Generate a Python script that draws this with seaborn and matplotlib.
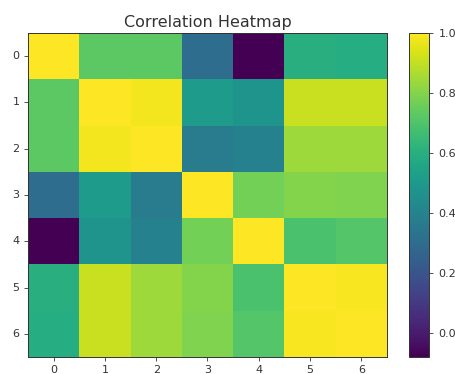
import matplotlib
matplotlib.use("Agg")
import matplotlib.pyplot as plt
import numpy as np
import pandas as pd
import seaborn as sns

# Correlation values
labels = ["0", "1", "2", "3", "4", "5", "6"]
row_0 = [1.00, 0.73, 0.73, 0.30, -0.08, 0.60, 0.59]
row_1 = [0.73, 1.00, 0.98, 0.51, 0.48, 0.91, 0.91]
row_2 = [0.73, 0.98, 1.00, 0.37, 0.39, 0.84, 0.84]
row_3 = [0.30, 0.51, 0.37, 1.00, 0.77, 0.80, 0.79]
row_4 = [-0.08, 0.48, 0.39, 0.77, 1.00, 0.69, 0.71]
row_5 = [0.60, 0.91, 0.84, 0.80, 0.69, 1.00, 0.99]
row_6 = [0.59, 0.91, 0.84, 0.79, 0.71, 0.99, 1.00]
cbar_ticks = [0.0, 0.2, 0.4, 0.6, 0.8, 1.0]

corr = pd.DataFrame([row_0, row_1, row_2, row_3, row_4, row_5, row_6],
                    index=labels, columns=labels)

fig = plt.figure(figsize=(4.56, 3.74), dpi=100)
ax = fig.add_axes([28 / 456, 1 - 357 / 374, 359 / 456, 324 / 374])
cax = fig.add_axes([409 / 456, 1 - 357 / 374, 20 / 456, 324 / 374])

sns.heatmap(corr, cmap="viridis", ax=ax, cbar_ax=cax,
            cbar_kws={"ticks": cbar_ticks})

# bring back the frame that imshow would have
for side in ax.spines.values():
    side.set_visible(True)
    side.set_linewidth(0.7)
    side.set_color("#333333")
cbar = ax.collections[0].colorbar
cbar.outline.set_visible(True)
cbar.outline.set_linewidth(0.7)
cbar.outline.set_edgecolor("#333333")

ax.set_title("Correlation Heatmap", fontsize=11.5, color="#333333", pad=4)
ax.tick_params(labelsize=8, length=3, width=0.6, colors="#333333", pad=3)
ax.set_yticklabels(labels, rotation=0)
ax.set_xticklabels(labels, rotation=0)
cax.tick_params(labelsize=8, length=3, width=0.6, colors="#333333", pad=4)
cax.set_yticklabels(["%.1f" % t for t in cbar_ticks])

fig.savefig("out.png", dpi=100)
